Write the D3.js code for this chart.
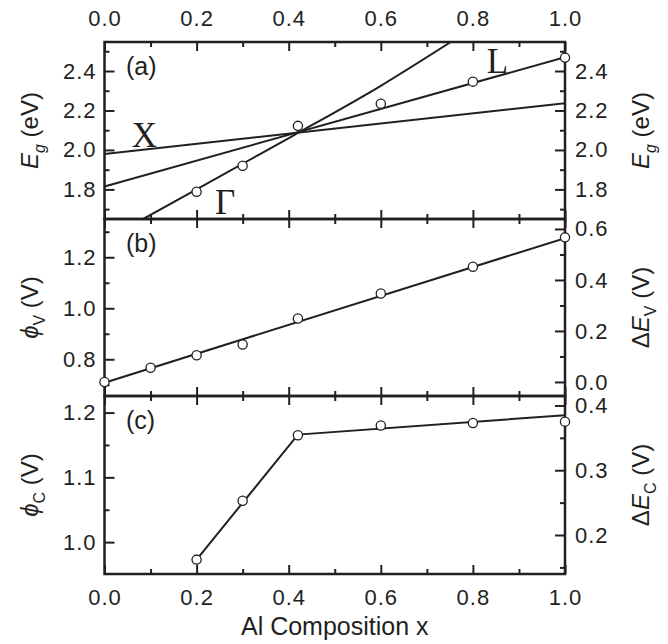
<!DOCTYPE html>
<html>
<head>
<meta charset="utf-8">
<script src="https://cdn.jsdelivr.net/npm/d3@7"></script>
<style>
	body { margin: 0; background: #fff; }
	svg text { font-family: "Liberation Sans", Arial, sans-serif; fill: #231f20; }
	.tick text { font-size: 22px; letter-spacing: 1px; }
	.serif { font-family: "Liberation Serif", "Times New Roman", serif; font-size: 35px; }
</style>
</head>
<body>
<svg id="chart" width="668" height="644"></svg>
<script>
// =================================================
// data
// =================================================
var comp = [0.2, 0.3, 0.42, 0.6, 0.8, 1.0];
var egPts = [1.788, 1.92, 2.122, 2.234, 2.346, 2.468];

// band edges (x, Eg) for Gamma, X and L valleys
var gammaX = [0.084, 0.2, 0.3, 0.41, 0.6, 0.752],
	gammaEg = [1.65, 1.80, 1.93, 2.073, 2.325, 2.547];
var xBandX = [0, 1],
	xBandEg = [1.98, 2.237];
var lBandX = [0, 1],
	lBandEg = [1.815, 2.47];

// panel (b)
var compV = [0, 0.1, 0.2, 0.3, 0.42, 0.6, 0.8, 1.0];
var phiV = [0.711, 0.767, 0.816, 0.858, 0.96, 1.058, 1.163, 1.278];
var fitVx = [0, 1],
	fitV = [0.708, 1.275];

// panel (c)
var phiC = [0.973, 1.064, 1.165, 1.18, 1.184, 1.186];
var fitCx = [0.2, 0.42, 1.0],
	fitC = [0.973, 1.166, 1.196];

// ticks
var xMajor = [0, 0.2, 0.4, 0.6, 0.8, 1.0],
	xMinor = [0.1, 0.3, 0.5, 0.7, 0.9];
var egMajor = [1.8, 2.0, 2.2, 2.4],
	egMinor = [1.7, 1.9, 2.1, 2.3, 2.5];
var phiVMajor = [0.8, 1.0, 1.2],
	phiVMinor = [0.7, 0.9, 1.1, 1.3];
var dEvMajor = [0.0, 0.2, 0.4, 0.6],
	dEvMinor = [0.1, 0.3, 0.5];
var phiCMajor = [1.0, 1.1, 1.2],
	phiCMinor = [1.05, 1.15];
var dEcMajor = [0.2, 0.3, 0.4],
	dEcMinor = [0.15, 0.25, 0.35];

(function() {
	var svg = d3.select("#chart");
	var left = 104.5, right = 565;
	var tops = [42, 219, 396, 574];

	var x = d3.scaleLinear().domain([0, 1]).range([left, right]);

	var fmt1 = d3.format(".1f");

	// =================================================
	// one panel with frame, ticks on all sides
	// =================================================
	function panel(i, cfg) {
		var y0 = tops[i], y1 = tops[i + 1];
		var yL = d3.scaleLinear().domain(cfg.domL).range([y1, y0]);
		var yR = d3.scaleLinear().domain(cfg.domR).range([y1, y0]);
		var g = svg.append("g");

		g.append("clipPath").attr("id", "clip" + i)
			.append("rect")
			.attr("x", left).attr("y", y0)
			.attr("width", right - left).attr("height", y1 - y0);

		function ax(axis, tr, vals, size, pad, labels, f) {
			var a = axis.tickValues(vals).tickSize(size).tickPadding(pad)
				.tickFormat(labels ? f : "");
			var s = g.append("g").attr("transform", tr).call(a);
			s.select(".domain").remove();
			s.selectAll("line").attr("stroke", "#231f20").attr("stroke-width", 2);
		}
		// x axes
		ax(d3.axisTop(x), "translate(0," + y0 + ")", xMajor, -9, 16, i == 0, fmt1);
		ax(d3.axisTop(x), "translate(0," + y0 + ")", xMinor, -5, 16, false);
		ax(d3.axisBottom(x), "translate(0," + y1 + ")", xMajor, -9, 15, i == 2, fmt1);
		ax(d3.axisBottom(x), "translate(0," + y1 + ")", xMinor, -5, 15, false);
		// y axes
		ax(d3.axisLeft(yL), "translate(" + left + ",0)", cfg.majL, -10, 8, true, cfg.fL);
		ax(d3.axisLeft(yL), "translate(" + left + ",0)", cfg.minL, -5, 8, false);
		ax(d3.axisRight(yR), "translate(" + right + ",0)", cfg.majR, -10, 10, true, cfg.fR);
		ax(d3.axisRight(yR), "translate(" + right + ",0)", cfg.minR, -5, 10, false);

		// frame
		g.append("rect")
			.attr("x", left).attr("y", y0)
			.attr("width", right - left).attr("height", y1 - y0)
			.attr("fill", "none").attr("stroke", "#231f20").attr("stroke-width", 2.5);

		// lines
		cfg.lines.forEach(function(ln) {
			var pts = ln.xs.map(function(d, k) { return [d, ln.ys[k]]; });
			g.append("path")
				.attr("clip-path", "url(#clip" + i + ")")
				.attr("d", d3.line()
					.x(function(d) { return x(d[0]); })
					.y(function(d) { return yL(d[1]); })
					.curve(ln.curve || d3.curveLinear)(pts))
				.attr("fill", "none").attr("stroke", "#231f20").attr("stroke-width", 2);
		});

		// symbols
		g.selectAll("circle.pt")
			.data(cfg.px.map(function(d, k) { return [d, cfg.py[k]]; }))
			.enter().append("circle")
			.attr("class", "pt")
			.attr("cx", function(d) { return x(d[0]); })
			.attr("cy", function(d) { return yL(d[1]); })
			.attr("r", 4.6)
			.attr("fill", "#fff").attr("stroke", "#231f20").attr("stroke-width", 1.3);

		// panel letter
		g.append("text")
			.attr("x", 126).attr("y", y0 + 33)
			.style("font-size", "25px")
			.text(cfg.tag);

		// axis titles
		function title(cx, parts) {
			var t = g.append("text")
				.attr("transform", "translate(" + cx + "," + ((y0 + y1) / 2) + ") rotate(-90)")
				.attr("text-anchor", "middle")
				.attr("dy", "0.35em")
				.style("font-size", "24px");
			parts.forEach(function(p) {
				var ts = t.append("tspan").text(p.t);
				if (p.it) ts.style("font-style", "italic");
				if (p.sub) ts.style("font-size", "16px").attr("dy", "7");
				if (p.up) ts.attr("dy", "-7");
			});
		}
		title(30, cfg.titleL);
		title(641, cfg.titleR);

		return { yL: yL, g: g };
	}

	var egTitle = [{ t: "E", it: true }, { t: "g", it: true, sub: true }, { t: " (eV)", up: true }];

	var pa = panel(0, {
		domL: [1.65, 2.547], domR: [1.65, 2.547],
		majL: egMajor, minL: egMinor, majR: egMajor, minR: egMinor,
		fL: fmt1, fR: fmt1,
		lines: [
			{ xs: gammaX, ys: gammaEg, curve: d3.curveMonotoneX },
			{ xs: xBandX, ys: xBandEg },
			{ xs: lBandX, ys: lBandEg }
		],
		px: comp, py: egPts,
		tag: "(a)",
		titleL: egTitle, titleR: egTitle
	});

	panel(1, {
		domL: [0.656, 1.35], domR: [0.656 - 0.711, 1.35 - 0.711],
		majL: phiVMajor, minL: phiVMinor, majR: dEvMajor, minR: dEvMinor,
		fL: fmt1, fR: fmt1,
		lines: [{ xs: fitVx, ys: fitV }],
		px: compV, py: phiV,
		tag: "(b)",
		titleL: [{ t: "\u03d5", it: true }, { t: "V", sub: true }, { t: " (V)", up: true }],
		titleR: [{ t: "\u0394" }, { t: "E", it: true }, { t: "V", sub: true }, { t: " (V)", up: true }]
	});

	panel(2, {
		domL: [0.9508, 1.2256], domR: [0.9508 - 0.811, 1.2256 - 0.811],
		majL: phiCMajor, minL: phiCMinor, majR: dEcMajor, minR: dEcMinor,
		fL: fmt1, fR: fmt1,
		lines: [{ xs: fitCx, ys: fitC }],
		px: comp, py: phiC,
		tag: "(c)",
		titleL: [{ t: "\u03d5", it: true }, { t: "C", sub: true }, { t: " (V)", up: true }],
		titleR: [{ t: "\u0394" }, { t: "E", it: true }, { t: "C", sub: true }, { t: " (V)", up: true }]
	});

	// valley labels
	var ann = [
		{ t: "X", x: 0.059, y: 2.013 },
		{ t: "\u0393", x: 0.24, y: 1.677 },
		{ t: "L", x: 0.83, y: 2.39 }
	];
	pa.g.selectAll("text.serif")
		.data(ann)
		.enter().append("text")
		.attr("class", "serif")
		.attr("x", function(d) { return x(d.x); })
		.attr("y", function(d) { return pa.yL(d.y); })
		.text(function(d) { return d.t; });

	// x title
	svg.append("text")
		.attr("x", (left + right) / 2).attr("y", 635)
		.attr("text-anchor", "middle")
		.style("font-size", "25px")
		.text("Al Composition x");
})();
</script>
</body>
</html>
